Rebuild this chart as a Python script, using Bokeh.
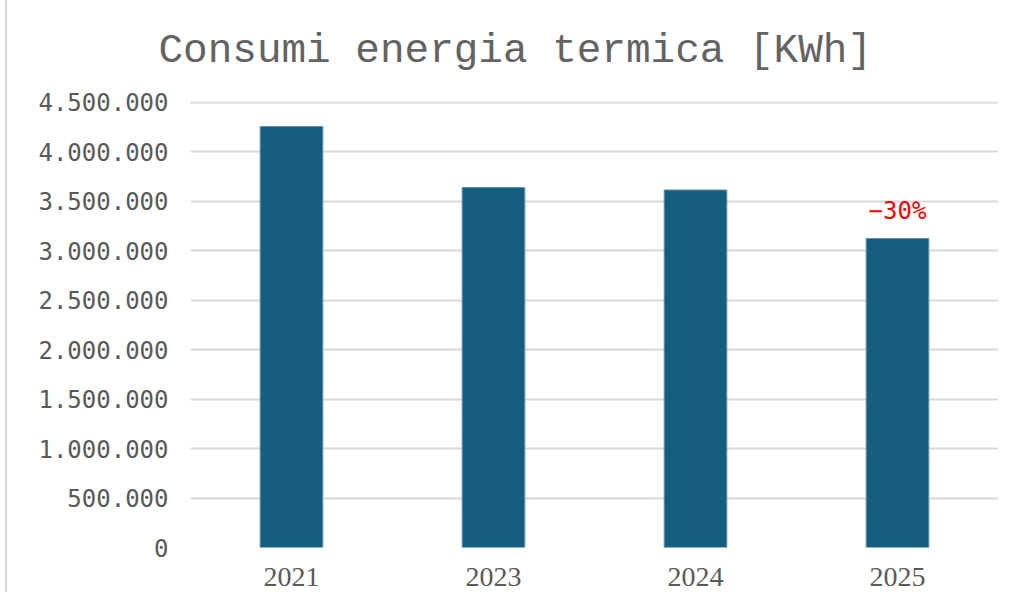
from bokeh.plotting import figure
from bokeh.models import ColumnDataSource, CustomJSTickFormatter, FixedTicker, Range1d
from bokeh.core.properties import value
from bokeh.embed import file_html
from bokeh.resources import INLINE

years = ["2021", "2023", "2024", "2025"]
consumi = [4257000, 3640000, 3615000, 3125000]
labels = ["", "", "", "−30%"]
y_ticks = [0, 500000, 1000000, 1500000, 2000000, 2500000, 3000000, 3500000, 4000000, 4500000]
title_text = "Consumi energia termica [KWh]"

src = ColumnDataSource(dict(x=years, y=consumi, lab=labels))

p = figure(x_range=years, y_range=Range1d(0, 4510000), width=1005, height=592,
           output_backend="svg", toolbar_location=None,
           min_border_left=183, min_border_right=14, min_border_bottom=45, min_border_top=101)

p.title.text = title_text
p.title.text_font = "Liberation Mono"
p.title.text_font_size = "41px"
p.title.text_font_style = "normal"
p.title.text_color = "#636363"
p.title.align = "left"
p.title.offset = -32
p.title.vertical_align = "top"
p.title.standoff = 52

p.vbar(x="x", top="y", width=0.31, source=src, fill_color="#165E80", line_color="#5F8FAA", line_width=1)
p.text(x="x", y="y", text="lab", source=src, text_align="center", text_baseline="middle",
       y_offset=-27, text_color="#FF0000", text_font=value("DejaVu Sans Mono"), text_font_size="24px")

p.yaxis.ticker = FixedTicker(ticks=y_ticks)
p.yaxis.formatter = CustomJSTickFormatter(code="return tick.toString().replace(/\\B(?=(\\d{3})+(?!\\d))/g, '.');")
p.yaxis.axis_line_color = None
p.yaxis.major_tick_line_color = None
p.yaxis.minor_tick_line_color = None
p.yaxis.major_label_text_font = "DejaVu Sans Mono"
p.yaxis.major_label_text_font_size = "24px"
p.yaxis.major_label_text_color = "#595959"
p.yaxis.major_label_standoff = 16

p.xaxis.axis_line_color = None
p.xaxis.major_tick_line_color = None
p.xaxis.major_label_text_font = "Liberation Serif"
p.xaxis.major_label_text_font_size = "28px"
p.xaxis.major_label_text_color = "#595959"
p.xaxis.major_label_standoff = 14

p.xgrid.grid_line_color = None
p.ygrid.grid_line_color = "#D9D9D9"
p.ygrid.grid_line_width = 2
p.outline_line_color = None
p.styles = {"margin-left": "5px", "border-left": "2px solid #D9D9D9"}

open("out.html", "w").write(file_html(p, INLINE))
